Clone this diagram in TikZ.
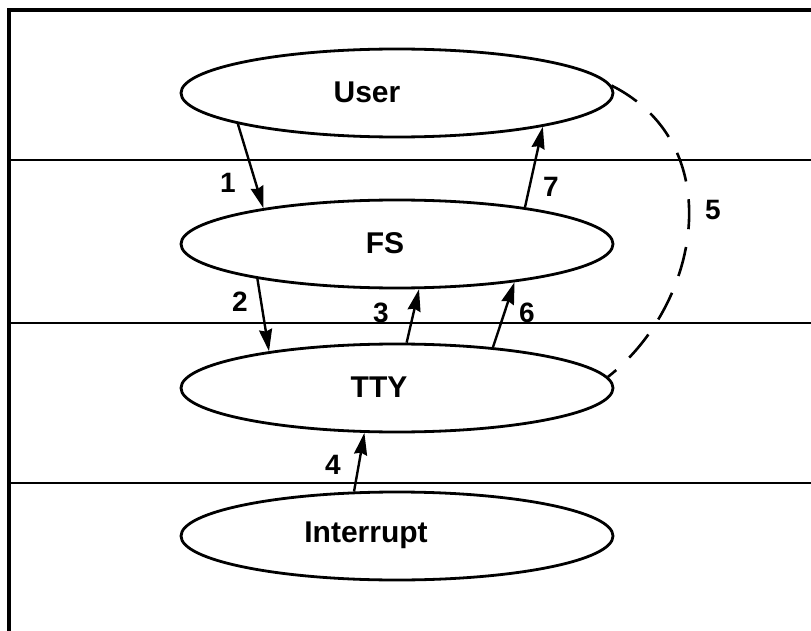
\documentclass[tikz,border=0pt]{standalone}
\usepackage{fontspec}
\setmainfont{Liberation Sans}
\usetikzlibrary{shapes.geometric,arrows.meta}
\begin{document}
\begin{tikzpicture}[x=1pt,y=-1pt,
  layer/.style={ellipse,draw,line width=2.8pt,minimum width=432pt,minimum height=88pt,inner sep=0pt},
  caption/.style={font=\fontsize{30}{36}\selectfont\bfseries,inner sep=0pt},
  flow/.style={line width=2.4pt,-{Stealth[length=22pt,width=13pt,inset=2pt]}},
  callback/.style={line width=2.6pt,dash pattern=on 30pt off 18pt},
  num/.style={font=\fontsize{28}{34}\selectfont\bfseries,inner sep=0pt},
  rule/.style={line width=2.5pt}]
\useasboundingbox (0,0) rectangle (811,631);

% frame and level separators
\draw[line width=4pt] (9,631) -- (9,10) -- (811,10);
\draw[rule] (7,160) -- (811,160);
\draw[rule] (7,323) -- (811,323);
\draw[rule] (7,483) -- (811,483);

% layers
\node[layer] (user) at (397,93)  {};
\node[layer] (fs)   at (397,244) {};
\node[layer] (tty)  at (397,388) {};
\node[layer] (intr) at (397,536) {};
\node[caption] (tuser) at (367,92)  {User};
\node[caption] (tfs)   at (385,243) {FS};
\node[caption] (ttty)  at (379,387) {TTY};
\node[caption] (tintr) at (366,535) {Interrupt};

% numbered calls between layers
\draw[flow] (user.191) -- (fs.165);
\draw[flow] (fs.16)    -- (user.347);
\draw[flow] (fs.194)   -- (tty.164);
\draw[flow] (tty.78)   -- (fs.296);
\draw[flow] (tty.23)   -- (fs.342);
\draw[flow] (intr.134) -- (tty.234);
\draw[callback] (user.2) .. controls (730,145) and (700,305) .. (tty.3);

% step numbers
\node[num] (n1) at (228,183) {1};
\node[num] (n2) at (240,302) {2};
\node[num] (n3) at (381,313) {3};
\node[num] (n4) at (333,465) {4};
\node[num] (n5) at (713,210) {5};
\node[num] (n6) at (527,313) {6};
\node[num] (n7) at (551,187) {7};
\end{tikzpicture}
\end{document}
